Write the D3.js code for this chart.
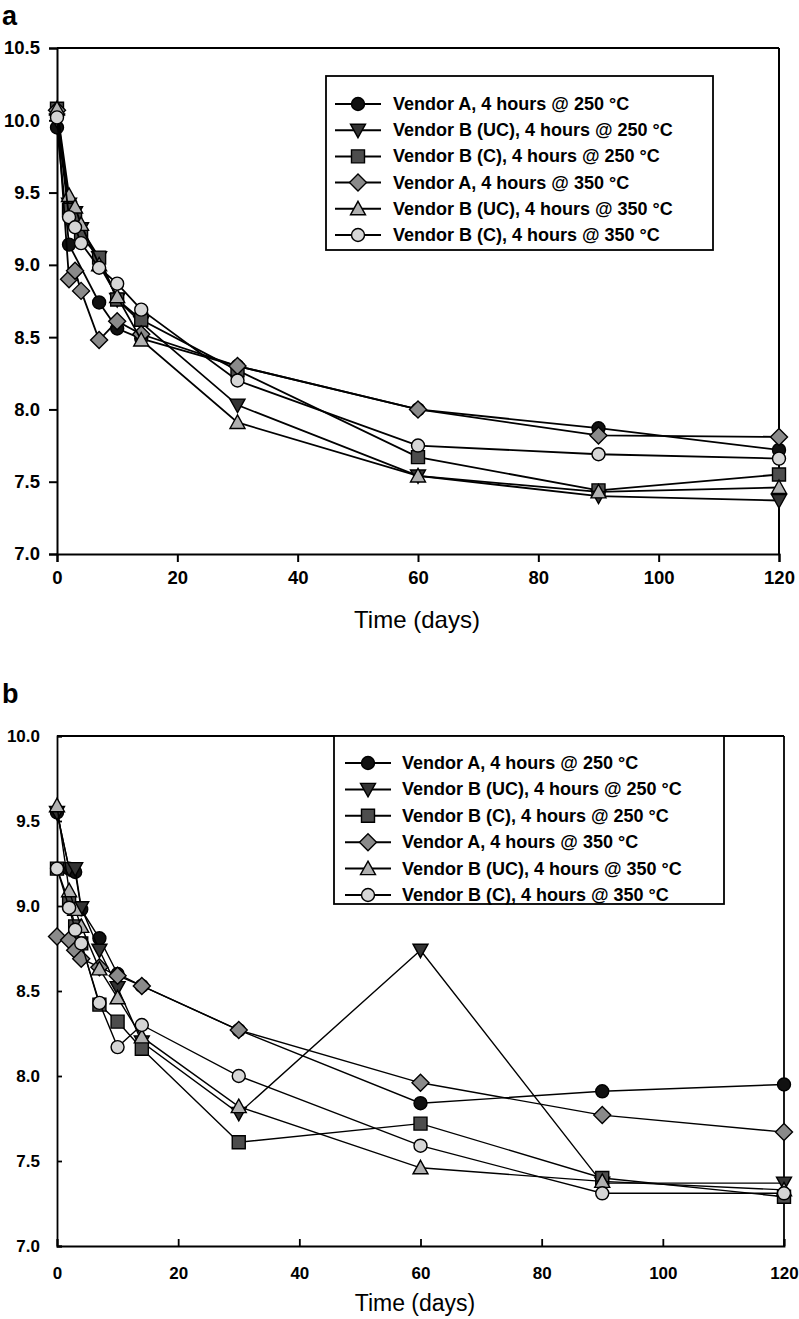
<!DOCTYPE html>
<html>
<head>
<meta charset="utf-8">
<script src="https://cdn.jsdelivr.net/npm/d3@7"></script>
<style>
  html, body { margin: 0; padding: 0; background: #fff; }
  svg { display: block; }
  text { font-family: "Liberation Sans", Arial, sans-serif; fill: #000; }
</style>
</head>
<body>
<svg id="chart" width="799" height="1319"></svg>
<script>
// ---------- data ----------
const days = [0, 2, 3, 4, 7, 10, 14, 30, 60, 90, 120];
const seriesLabels = [
  "Vendor A, 4 hours @ 250 \u00B0C",
  "Vendor B (UC), 4 hours @ 250 \u00B0C",
  "Vendor B (C), 4 hours @ 250 \u00B0C",
  "Vendor A, 4 hours @ 350 \u00B0C",
  "Vendor B (UC), 4 hours @ 350 \u00B0C",
  "Vendor B (C), 4 hours @ 350 \u00B0C"
];
const xTicks = [0, 20, 40, 60, 80, 100, 120];
const yTicksA = [7.0, 7.5, 8.0, 8.5, 9.0, 9.5, 10.0, 10.5];
const yTicksB = [7.0, 7.5, 8.0, 8.5, 9.0, 9.5, 10.0];

// panel a
const a_A250  = [9.95, 9.14, null, null, 8.74, 8.56, 8.49, 8.30, 8.00, 7.87, 7.72];
const a_UC250 = [10.00, 9.42, 9.36, 9.25, 9.05, 8.76, 8.60, 8.03, 7.54, 7.40, 7.37];
const a_C250  = [10.08, 9.38, 9.32, 9.20, 9.05, 8.76, 8.62, 8.27, 7.67, 7.44, 7.55];
const a_A350  = [10.07, 8.90, 8.96, 8.82, 8.48, 8.61, 8.52, 8.30, 8.00, 7.82, 7.81];
const a_UC350 = [10.08, 9.48, 9.40, 9.28, 9.00, 8.78, 8.48, 7.91, 7.54, 7.43, 7.46];
const a_C350  = [10.02, 9.33, 9.26, 9.15, 8.98, 8.87, 8.69, 8.20, 7.75, 7.69, 7.66];

// panel b
const b_A250  = [9.55, 9.22, 9.20, 8.98, 8.81, 8.60, 8.53, 8.27, 7.84, 7.91, 7.95];
const b_UC250 = [9.55, 9.22, 9.22, 8.99, 8.74, 8.52, 8.20, 7.78, 8.74, 7.37, 7.37];
const b_C250  = [9.22, 9.02, 8.88, 8.78, 8.42, 8.32, 8.16, 7.61, 7.72, 7.40, 7.29];
const b_A350  = [8.82, 8.80, 8.74, 8.69, 8.64, 8.59, 8.53, 8.27, 7.96, 7.77, 7.67];
const b_UC350 = [9.59, 9.09, 8.98, 8.88, 8.63, 8.46, 8.23, 7.82, 7.46, 7.38, 7.33];
const b_C350  = [9.22, 8.99, 8.86, 8.78, 8.43, 8.17, 8.30, 8.00, 7.59, 7.31, 7.31];

// ---------- marker styles ----------
const markerStyles = [
  { shape: "circle",   fill: "#111111" },
  { shape: "triDown",  fill: "#333333" },
  { shape: "square",   fill: "#4d4d4d" },
  { shape: "diamond",  fill: "#8a8a8a" },
  { shape: "triUp",    fill: "#b0b0b0" },
  { shape: "circle",   fill: "#d6d6d6" }
];

function markerPath(shape) {
  switch (shape) {
    case "circle": { const r = 6.5; return `M${-r},0A${r},${r} 0 1,0 ${r},0A${r},${r} 0 1,0 ${-r},0Z`; }
    case "square": { const s = 6.5; return `M${-s},${-s}H${s}V${s}H${-s}Z`; }
    case "diamond": { const s = 8.5; return `M0,${-s}L${s},0L0,${s}L${-s},0Z`; }
    case "triUp": { return "M0,-7.5L7.5,6L-7.5,6Z"; }
    case "triDown": { return "M0,7.5L7.5,-6L-7.5,-6Z"; }
  }
}

const svg = d3.select("#chart");

function drawPanel(cfg) {
  const x = d3.scaleLinear().domain([0, 120]).range([cfg.left, cfg.right]);
  const y = d3.scaleLinear().domain(cfg.yDomain).range([cfg.bottom, cfg.top]);
  const g = svg.append("g");

  // frame top/right
  g.append("line").attr("x1", cfg.left).attr("x2", cfg.right).attr("y1", cfg.top).attr("y2", cfg.top)
    .attr("stroke", "#000").attr("stroke-width", cfg.axisW);
  g.append("line").attr("x1", cfg.right).attr("x2", cfg.right).attr("y1", cfg.top).attr("y2", cfg.bottom)
    .attr("stroke", "#000").attr("stroke-width", cfg.axisW);

  // axes
  const xAxis = d3.axisBottom(x).tickValues(xTicks).tickFormat(d3.format("d"))
    .tickSize(cfg.tickX).tickPadding(cfg.padX);
  const yAxis = d3.axisLeft(y).tickValues(cfg.yTicks).tickFormat(d3.format(".1f"))
    .tickSize(cfg.tickY).tickPadding(cfg.padY);

  const gx = g.append("g").attr("transform", `translate(0,${cfg.bottom})`).call(xAxis);
  const gy = g.append("g").attr("transform", `translate(${cfg.left},0)`).call(yAxis);
  [gx, gy].forEach(a => {
    a.select(".domain").attr("stroke", "#000").attr("stroke-width", cfg.axisW);
    a.selectAll(".tick line").attr("stroke", "#000").attr("stroke-width", cfg.axisW);
    a.selectAll(".tick text").attr("font-family", "Liberation Sans, Arial, sans-serif")
      .attr("font-size", cfg.tickFont).attr("font-weight", "bold").attr("fill", "#000");
  });
  gy.selectAll(".tick text").attr("x", cfg.yLabelX - cfg.left);

  // axis title
  g.append("text").attr("x", cfg.titleX).attr("y", cfg.titleY)
    .attr("text-anchor", "middle").attr("font-size", cfg.titleFont).text("Time (days)");

  // panel letter
  g.append("text").attr("x", 2).attr("y", cfg.letterY)
    .attr("font-size", 27).attr("font-weight", "bold").text(cfg.letter);

  // series
  const line = d3.line().x(d => x(d.day)).y(d => y(d.v));
  cfg.series.forEach((vals, i) => {
    const pts = days.map((d, k) => ({ day: d, v: vals[k] })).filter(p => p.v !== null);
    const sg = g.append("g");
    sg.append("path").datum(pts).attr("d", line)
      .attr("fill", "none").attr("stroke", "#000").attr("stroke-width", cfg.lineW);
    sg.selectAll("path.m").data(pts).join("path").attr("class", "m")
      .attr("transform", p => `translate(${x(p.day)},${y(p.v)})`)
      .attr("d", markerPath(markerStyles[i].shape))
      .attr("fill", markerStyles[i].fill).attr("stroke", "#000").attr("stroke-width", 1.4);
  });

  // legend
  const L = cfg.legend;
  const lg = g.append("g");
  lg.append("rect").attr("x", L.x).attr("y", L.y).attr("width", L.w).attr("height", L.h)
    .attr("fill", "#fff").attr("stroke", "#000").attr("stroke-width", 1.8);
  seriesLabels.forEach((lab, i) => {
    const cy = L.row0 + i * L.dy;
    lg.append("line").attr("x1", L.lx0).attr("x2", L.lx1).attr("y1", cy).attr("y2", cy)
      .attr("stroke", "#000").attr("stroke-width", 2);
    lg.append("path").attr("transform", `translate(${(L.lx0 + L.lx1) / 2},${cy})`)
      .attr("d", markerPath(markerStyles[i].shape))
      .attr("fill", markerStyles[i].fill).attr("stroke", "#000").attr("stroke-width", 1.4);
    lg.append("text").attr("x", L.tx).attr("y", cy + 6)
      .attr("font-size", L.font).attr("font-weight", "bold").text(lab);
  });
}

drawPanel({
  letter: "a", letterY: 25,
  left: 57, right: 779, top: 48, bottom: 554,
  yDomain: [7, 10.5], yTicks: yTicksA,
  tickX: 8, padX: 9, tickY: 8, padY: 4, yLabelX: 40,
  axisW: 2, lineW: 1.8, tickFont: 18.5,
  titleX: 417, titleY: 628, titleFont: 24,
  series: [a_A250, a_UC250, a_C250, a_A350, a_UC350, a_C350],
  legend: { x: 326, y: 76, w: 387, h: 174, row0: 104, dy: 26.2, lx0: 335, lx1: 381, tx: 393, font: 18 }
});

drawPanel({
  letter: "b", letterY: 703,
  left: 57, right: 784, top: 736, bottom: 1246,
  yDomain: [7, 10], yTicks: yTicksB,
  tickX: -7, padX: 21, tickY: -5, padY: 14, yLabelX: 40,
  axisW: 1.8, lineW: 1.4, tickFont: 17,
  titleX: 415, titleY: 1311, titleFont: 23,
  series: [b_A250, b_UC250, b_C250, b_A350, b_UC350, b_C350],
  legend: { x: 334, y: 736, w: 390, h: 168, row0: 763, dy: 26.4, lx0: 345, lx1: 391, tx: 402, font: 18 }
});
</script>
</body>
</html>
